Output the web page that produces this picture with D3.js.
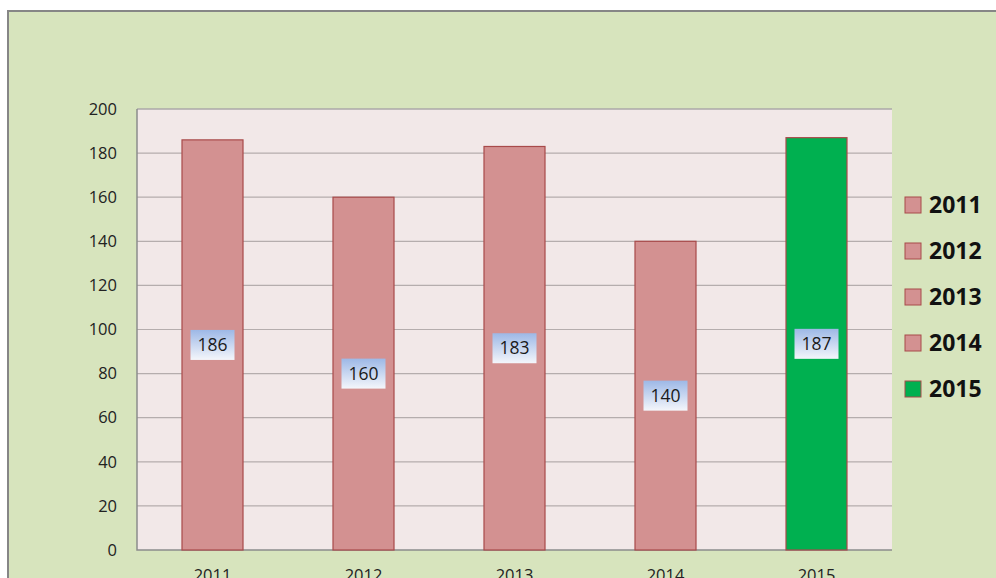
<!DOCTYPE html>
<html><head><meta charset="utf-8">
<script src="https://cdn.jsdelivr.net/npm/d3@7"></script>
<style>body{margin:0;background:#fff;}svg{display:block;}</style>
</head><body>
<svg id="c" width="996" height="578"></svg>
<script>
const categories = ["2011","2012","2013","2014","2015"];
const values = [186,160,183,140,187];
const yTicks = [0,20,40,60,80,100,120,140,160,180,200];
const colors = ["#d39191","#d39191","#d39191","#d39191","#00b050"];

const svg = d3.select("#c");
const defs = svg.append("defs");
const grad = defs.append("linearGradient").attr("id","lg").attr("x1",0).attr("y1",0).attr("x2",0).attr("y2",1);
grad.append("stop").attr("offset","0%").attr("stop-color","#9db8e6");
grad.append("stop").attr("offset","100%").attr("stop-color","#f4f6fb");

svg.append("rect").attr("x",8).attr("y",11).attr("width",996).attr("height",600)
  .attr("fill","#d7e4bd").attr("stroke","#868686").attr("stroke-width",2);

const L=137,R=892,T=109,B=550;
const x = d3.scaleBand().domain(categories).range([L,R]).paddingInner(0.596).paddingOuter(0.298);
const y = d3.scaleLinear().domain([0,200]).range([B,T]);

svg.append("rect").attr("x",L).attr("y",T).attr("width",R-L).attr("height",B-T).attr("fill","#f2e8e8");
svg.append("g").selectAll("line").data(yTicks.slice(1)).join("line")
  .attr("x1",L).attr("x2",R).attr("y1",d=>y(d)).attr("y2",d=>y(d)).attr("stroke","#b5adad").attr("stroke-width",1.2);
svg.append("path").attr("d",`M${L},${T}H${R}`).attr("stroke","#a6a6a6").attr("fill","none").attr("stroke-width",1.2);
svg.append("path").attr("d",`M${L},${T}V${B}H${R}`).attr("stroke","#8c8c8c").attr("fill","none").attr("stroke-width",1.5);

const yAxis = d3.axisLeft(y).tickValues(yTicks).tickSize(0).tickPadding(20);
const ya = svg.append("g").attr("transform",`translate(${L},0)`).call(yAxis);
ya.select(".domain").remove();
ya.selectAll("text").attr("font-family","'Open Sans', 'Liberation Sans', sans-serif").attr("font-size",16.5).attr("fill","#222");

const xAxis = d3.axisBottom(x).tickSize(0).tickPadding(19);
const xa = svg.append("g").attr("transform",`translate(0,${B})`).call(xAxis);
xa.select(".domain").remove();
xa.selectAll("text").attr("font-family","'Open Sans', 'Liberation Sans', sans-serif").attr("font-size",16.5).attr("fill","#222");

const bars = svg.append("g").selectAll("g").data(categories).join("g");
bars.append("rect").attr("x",d=>x(d)).attr("width",x.bandwidth())
  .attr("y",(d,i)=>y(values[i])).attr("height",(d,i)=>B-y(values[i]))
  .attr("fill",(d,i)=>colors[i]).attr("stroke","#a84a4a").attr("stroke-width",1.2);

const lab = svg.append("g").selectAll("g").data(categories).join("g")
  .attr("transform",(d,i)=>`translate(${x(d)+x.bandwidth()/2},${y(values[i]/2)})`);
lab.append("rect").attr("x",-22).attr("y",-15).attr("width",44).attr("height",30).attr("fill","url(#lg)");
lab.append("text").text((d,i)=>values[i]).attr("text-anchor","middle").attr("dy","0.35em")
  .attr("font-family","'Open Sans', 'Liberation Sans', sans-serif").attr("font-size",17.5).attr("fill","#1a1a1a");

const leg = svg.append("g").selectAll("g").data(categories).join("g")
  .attr("transform",(d,i)=>`translate(905,${205+i*46})`);
leg.append("rect").attr("x",0).attr("y",-8).attr("width",16).attr("height",16)
  .attr("fill",(d,i)=>colors[i]).attr("stroke","#a84a4a").attr("stroke-width",1);
leg.append("text").text(d=>d).attr("x",24).attr("dy","0.36em")
  .attr("font-family","'Open Sans', 'Liberation Sans', sans-serif").attr("font-weight","bold").attr("font-size",23).attr("fill","#111");
</script>
</body></html>
